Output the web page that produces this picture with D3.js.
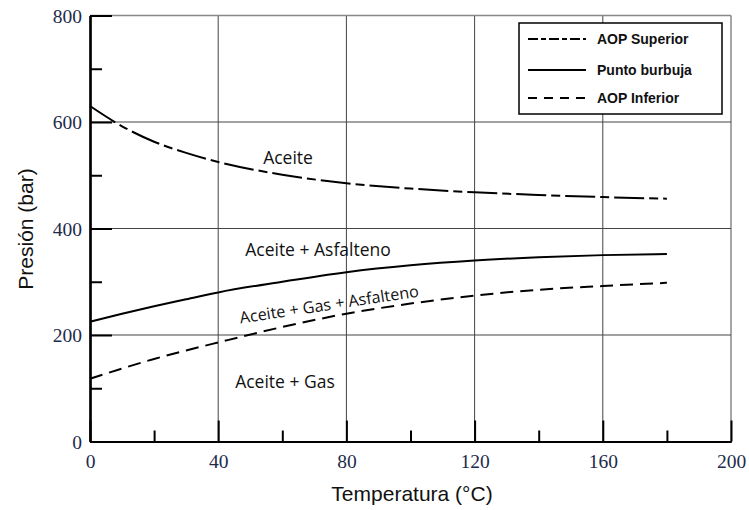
<!DOCTYPE html>
<html><head><meta charset="utf-8">
<script src="https://cdn.jsdelivr.net/npm/d3@7"></script>
<style>body{margin:0;background:#fff}svg{display:block}</style>
</head><body>
<svg id="c" width="749" height="510"></svg>
<script>
const temps = [0, 10, 20, 30, 40, 60, 80, 100, 120, 140, 160, 180];
const aopSuperior = [630, 592, 563, 542, 525, 501, 485, 475, 468, 463, 459, 456];
const puntoBurbuja = [225, 240, 254, 267, 280, 300, 318, 331, 340, 346, 350, 352];
const aopInferior = [118, 137, 155, 171, 186, 215, 240, 259, 274, 285, 292, 298];
const xTicks = [0, 40, 80, 120, 160, 200];
const xMinor = [20, 60, 100, 140, 180];
const yTicks = [0, 200, 400, 600, 800];
const yMinor = [100, 300, 500, 700];
const legendLabels = ["AOP Superior", "Punto burbuja", "AOP Inferior"];

const svg = d3.select("#c");
const x = d3.scaleLinear().domain([0, 200]).range([90, 731]);
const y = d3.scaleLinear().domain([0, 800]).range([441.5, 15.5]);

// grid
const g = svg.append("g");
xTicks.slice(1).forEach(t => g.append("line").attr("x1", x(t)).attr("x2", x(t)).attr("y1", y(0)).attr("y2", y(800))
  .attr("stroke", t === 200 ? "#888" : "#444").attr("stroke-width", t === 200 ? 1.5 : 1));
yTicks.slice(1).forEach(t => g.append("line").attr("x1", x(0)).attr("x2", x(200)).attr("y1", y(t)).attr("y2", y(t))
  .attr("stroke", t === 800 ? "#888" : "#444").attr("stroke-width", t === 800 ? 1.5 : 1));

// axes
const xa = svg.append("g").attr("transform", `translate(0,${y(0)})`)
  .call(d3.axisBottom(x).tickValues(xTicks).tickSize(-21).tickPadding(26).tickSizeOuter(0));
const xm = svg.append("g").attr("transform", `translate(0,${y(0)})`)
  .call(d3.axisBottom(x).tickValues(xMinor).tickSize(-11).tickFormat("").tickSizeOuter(0));
const ya = svg.append("g").attr("transform", `translate(${x(0)},0)`)
  .call(d3.axisLeft(y).tickValues(yTicks).tickSize(-22).tickPadding(8).tickSizeOuter(0));
const ym = svg.append("g").attr("transform", `translate(${x(0)},0)`)
  .call(d3.axisLeft(y).tickValues(yMinor).tickSize(-12).tickFormat("").tickSizeOuter(0));
[xa, xm, ya, ym].forEach(a => {
  a.select(".domain").attr("stroke", "#000").attr("stroke-width", 2.2);
  a.selectAll(".tick line").attr("stroke", "#000").attr("stroke-width", 2);
  a.selectAll("text").attr("font-family", "'Liberation Serif','DejaVu Serif',serif")
    .attr("font-size", 19.5).attr("fill", "#1c2a4c");
});
xa.selectAll("text").attr("dy", 0);
ya.selectAll("text").attr("dy", "0.35em");

// axis titles
svg.append("text").attr("x", 412).attr("y", 501).attr("text-anchor", "middle")
  .attr("font-family", "'Liberation Sans',Arial,sans-serif").attr("font-size", 21).attr("fill", "#111")
  .text("Temperatura (°C)");
svg.append("text").attr("transform", "translate(33,229) rotate(-90)").attr("text-anchor", "middle")
  .attr("font-family", "'Liberation Sans',Arial,sans-serif").attr("font-size", 21).attr("fill", "#111")
  .text("Presión (bar)");

// curves
const series = [
  {vals: aopSuperior, dash: "30,5,9,5"},
  {vals: puntoBurbuja, dash: null},
  {vals: aopInferior, dash: "13,7"}
];
const line = d3.line().curve(d3.curveMonotoneX);
series.forEach(s => {
  svg.append("path").attr("d", line(temps.map((t, i) => [x(t), y(s.vals[i])])))
    .attr("fill", "none").attr("stroke", "#000").attr("stroke-width", 2)
    .attr("stroke-dasharray", s.dash);
});

// region labels
const lf = "'Open Sans','Liberation Sans',sans-serif";
function lab(txt, cx, cy, rot, fs) {
  svg.append("text").attr("transform", `translate(${cx},${cy}) rotate(${rot || 0})`)
    .attr("text-anchor", "middle").attr("font-family", lf).attr("font-size", fs || 17.5).attr("fill", "#111").text(txt);
}
lab("Aceite", 288, 164);
lab("Aceite + Asfalteno", 318, 256);
lab("Aceite + Gas + Asfalteno", 330, 310, -8.6, 16.2);
lab("Aceite + Gas", 285, 388);

// legend
const lg = svg.append("g");
lg.append("rect").attr("x", 519).attr("y", 23).attr("width", 203).attr("height", 91)
  .attr("fill", "#fff").attr("stroke", "#000").attr("stroke-width", 1.5);
const ly = [39, 70, 98];
const ldash = ["10,3,5,3", null, "9,7"];
legendLabels.forEach((l, i) => {
  lg.append("line").attr("x1", 528).attr("x2", 586).attr("y1", ly[i]).attr("y2", ly[i])
    .attr("stroke", "#000").attr("stroke-width", 2).attr("stroke-dasharray", ldash[i]);
  lg.append("text").attr("x", 597).attr("y", ly[i] + 5).attr("font-family", "'Liberation Sans',Arial,sans-serif")
    .attr("font-size", 14).attr("font-weight", "bold").attr("fill", "#111").text(l);
});
</script>
</body></html>
